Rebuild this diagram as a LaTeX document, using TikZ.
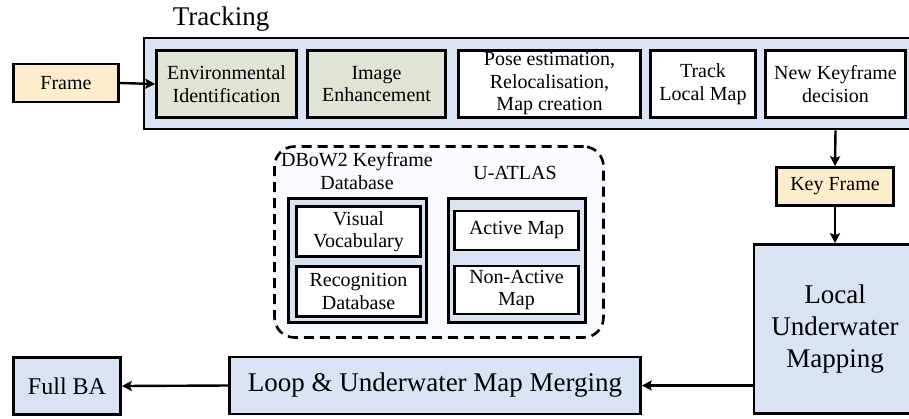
\documentclass[tikz,border=0pt]{standalone}
\usepackage{fontspec}
\setmainfont{Liberation Serif}
\usetikzlibrary{arrows.meta}
\definecolor{cblue}{HTML}{DAE3F3}
\definecolor{cgreen}{HTML}{DFE4D5}
\definecolor{cyellow}{HTML}{FEEDCA}
\definecolor{cpale}{HTML}{F8FAFD}
\tikzset{
  box/.style={draw=black, line width=2.6pt, inner sep=0pt, align=center,
    font=\fontsize{20}{22.5}\selectfont},
  bigtext/.style={font=\fontsize{27}{32}\selectfont},
  arr/.style={line width=2.4pt, -{Stealth[length=10pt,width=10pt,inset=2pt]}},
  lbl/.style={inner sep=0pt, align=center, font=\fontsize{20}{22.5}\selectfont},
}
\begin{document}
\begin{tikzpicture}[x=1pt,y=-1pt]
\useasboundingbox (0,0) rectangle (909,418);
% Tracking
\node[box, fill=cblue, minimum width=770pt, minimum height=91pt] (track) at (529,83.5) {};
\node[lbl, font=\fontsize{27}{32}\selectfont] (tracklbl) at (221,19) {Tracking};
\node[box, fill=cgreen, minimum width=140pt, minimum height=67pt] (env) at (226.5,84) {Environmental\\Identification};
\node[box, fill=cgreen, minimum width=138pt, minimum height=67pt] (img) at (376.5,84) {Image\\Enhancement};
\node[box, fill=white, minimum width=182pt, minimum height=67pt] (pose) at (549.5,84) {Pose estimation,\\Relocalisation,\\Map creation};
\node[box, fill=white, minimum width=105pt, minimum height=67pt] (tlm) at (703,84) {Track\\Local Map};
\node[box, fill=white, minimum width=140pt, minimum height=67pt] (nkd) at (835.5,84) {New Keyframe\\decision};
% Frame
\node[box, fill=cyellow, minimum width=105pt, minimum height=38pt] (frame) at (66,83) {Frame};
\draw[arr] (frame.east) -- (env.west);
% Key Frame
\node[box, fill=cyellow, minimum width=117pt, minimum height=38pt] (kf) at (835,186.5) {Key Frame};
\node[box, bigtext, fill=cblue, minimum width=162pt, minimum height=169pt] (local) at (835,329) {Local\\Underwater\\Mapping};
\coordinate (kfstart) at (nkd.south |- track.south);
\draw[arr] (kfstart) -- (kf.north);
\draw[arr] (kf.south) -- (local.north);
% bottom row
\node[box, bigtext, fill=cblue, minimum width=411pt, minimum height=57pt] (loop) at (435,385.5) {Loop \& Underwater Map Merging};
\node[box, fill=cblue, minimum width=107pt, minimum height=57pt, font=\fontsize{24}{28}\selectfont] (fullba) at (67,386) {Full BA};
\coordinate (lstart) at (loop.east -| local.west);
\draw[arr] (lstart) -- (loop.east);
\draw[arr] (loop.west) -- (fullba.east);
% dashed group
\node[draw=black, line width=2.6pt, dash pattern=on 10pt off 6pt, rounded corners=20pt, fill=cpale, minimum width=329pt, minimum height=191pt, inner sep=0pt] (grp) at (439,242) {};
\node[lbl] (dbowlbl) at (357,171) {DBoW2 Keyframe\\Database};
\node[lbl] (ualbl) at (515,173) {U-ATLAS};
\node[box, fill=cblue, minimum width=138pt, minimum height=124pt] (dbow) at (357.5,260.5) {};
\node[box, fill=white, minimum width=124pt, minimum height=50pt] (vv) at (358.5,231.5) {Visual\\Vocabulary};
\node[box, fill=white, minimum width=124pt, minimum height=50pt] (rd) at (358.5,291.5) {Recognition\\Database};
\node[box, fill=cblue, minimum width=137pt, minimum height=124pt] (ua) at (517,260.5) {};
\node[box, fill=white, minimum width=124pt, minimum height=39pt] (am) at (516.5,230.5) {Active Map};
\node[box, fill=white, minimum width=124pt, minimum height=48pt] (nam) at (516.5,290) {Non-Active\\Map};
\end{tikzpicture}
\end{document}
